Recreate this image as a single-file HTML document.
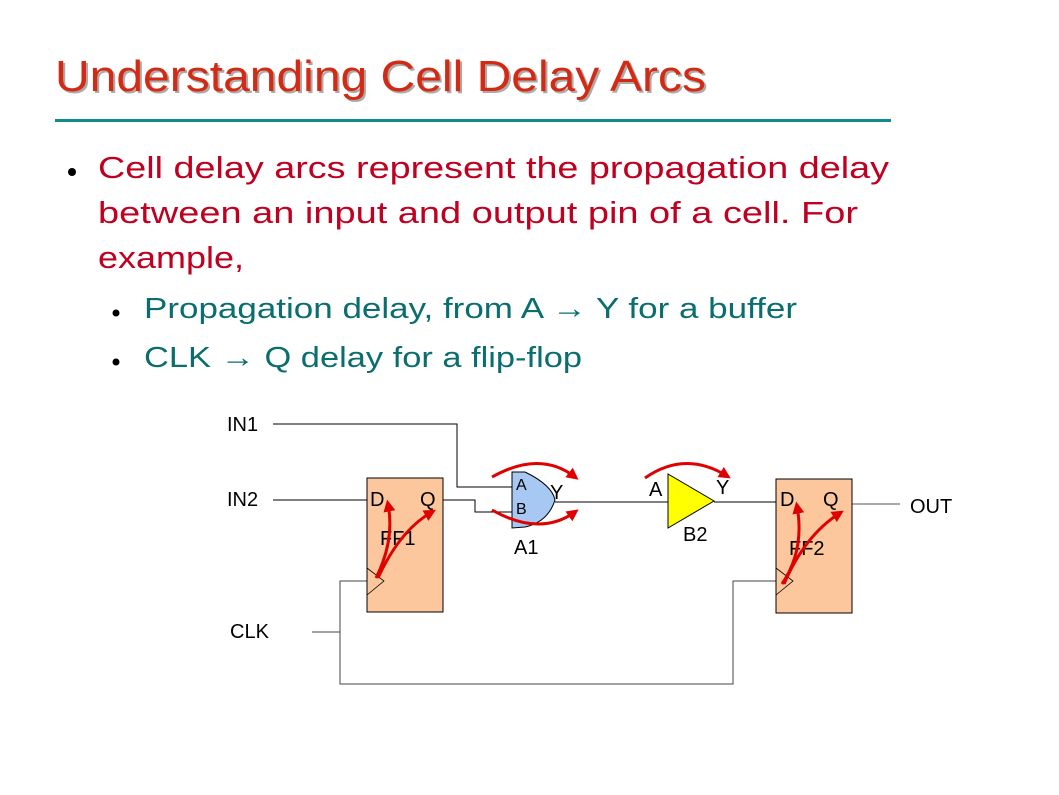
<!DOCTYPE html>
<html><head><style>
body{margin:0;background:#fff;}
svg{display:block;font-family:"Liberation Sans",Arial,sans-serif;}
</style></head><body>
<svg width="1059" height="795" viewBox="0 0 1059 795">
<defs><marker id="ah" markerWidth="4" markerHeight="4" refX="2.5" refY="2" orient="auto" markerUnits="strokeWidth"><path d="M0,0 L4,2 L0,4 Z" fill="#e00000"/></marker></defs>
<text x="57" y="93" font-size="44" fill="#aaa" textLength="651" lengthAdjust="spacingAndGlyphs">Understanding Cell Delay Arcs</text>
<text x="55" y="91" font-size="44" fill="#d42a14" textLength="651" lengthAdjust="spacingAndGlyphs">Understanding Cell Delay Arcs</text>
<rect x="55" y="119" width="836" height="3" fill="#0f8c8c"/>
<g font-size="31" fill="#c00020">
<circle cx="72" cy="172" r="4" fill="#000"/>
<text x="98" y="178" textLength="791" lengthAdjust="spacingAndGlyphs">Cell delay arcs represent  the propagation delay</text>
<text x="98" y="223" textLength="760" lengthAdjust="spacingAndGlyphs">between  an input and output pin of a cell. For</text>
<text x="98" y="268" textLength="146" lengthAdjust="spacingAndGlyphs">example,</text>
</g>
<g font-size="29" fill="#0a6e6e">
<circle cx="116" cy="313" r="3.5" fill="#000"/>
<text x="144" y="318" textLength="653" lengthAdjust="spacingAndGlyphs">Propagation delay,  from A → Y for a buffer</text>
<circle cx="116" cy="362" r="3.5" fill="#000"/>
<text x="144" y="367" textLength="438" lengthAdjust="spacingAndGlyphs">CLK → Q delay for a flip-flop</text>
</g>
<g stroke="#000" stroke-width="1" fill="none">
<polyline points="273,424 457,424 457,487 512,487"/>
<polyline points="273,500 367,500"/>
<polyline points="443,500 475,500 475,512 512,512"/>
<polyline points="555,502 668,502"/>
<polyline points="714,502 776,502"/>
<polyline points="852,504 900,504" stroke="#555"/>
<polyline points="312,632 340,632 340,581 367,581" stroke="#444"/>
<polyline points="340,632 340,684 733,684 733,581 776,581" stroke="#444"/>
</g>
<rect x="367" y="478" width="76" height="134" fill="#fcc79c" stroke="#000"/>
<rect x="776" y="479" width="76" height="134" fill="#fcc79c" stroke="#000"/>
<polyline points="367,568 384,581 367,595" fill="none" stroke="#000" stroke-width="0.8"/>
<polyline points="776,568 793,581 776,595" fill="none" stroke="#000" stroke-width="0.8"/>
<path d="M512,472 L525,472 Q552,485 555,500 Q548,522 525,527 L512,528 Z" fill="#a6c8f2" stroke="#000"/>
<polygon points="668,474 668,528 714,501" fill="#ffff00" stroke="#000"/>
<g font-size="20" fill="#000">
<text x="227" y="431">IN1</text>
<text x="227" y="506">IN2</text>
<text x="230" y="638">CLK</text>
<text x="910" y="513">OUT</text>
<text x="370" y="506">D</text><text x="420" y="506">Q</text>
<text x="380" y="545">FF1</text>
<text x="780" y="506">D</text><text x="823" y="506">Q</text>
<text x="789" y="555">FF2</text>
<text x="514" y="554">A1</text>
<text x="683" y="541">B2</text>
<text x="649" y="496">A</text>
<text x="716" y="494">Y</text>
<text x="550" y="499">Y</text>
<text x="516" y="490" font-size="16">A</text>
<text x="516" y="514" font-size="16">B</text>
</g>
<g stroke="#e00000" stroke-width="3" fill="none" marker-end="url(#ah)">
<path d="M492,477 Q540,450 575,477"/>
<path d="M492,510 Q540,537 575,512"/>
<path d="M645,478 Q685,450 727,476"/>
<path d="M376,578 Q395,540 388,504"/>
<path d="M378,578 Q400,530 432,512"/>
<path d="M782,584 Q805,550 797,506"/>
<path d="M784,584 Q805,535 840,513"/>
</g>
</svg>
</body></html>
